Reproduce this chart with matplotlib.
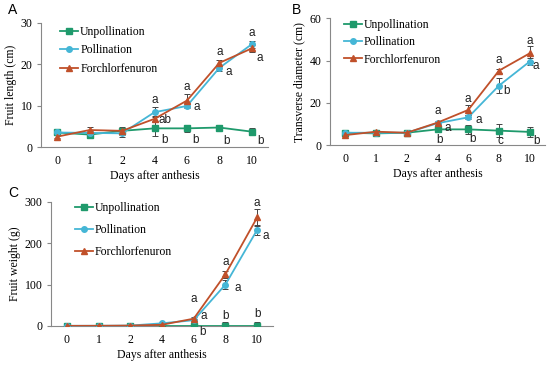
import matplotlib
matplotlib.use("Agg")
import matplotlib.pyplot as plt
import numpy as np

plt.rcParams['font.family'] = ['Liberation Serif', 'DejaVu Serif']

days = ["0", "1", "2", "4", "6", "8", "10"]
series_names = ["Unpollination", "Pollination", "Forchlorfenuron"]
colors = ["#1f9a6c", "#45b6d6", "#c0502a"]
markers = ["s", "o", "^"]

# Panel A: fruit length (cm)
A_unpoll = [3.5, 3.0, 3.9, 4.5, 4.5, 4.7, 3.7]
A_poll = [3.5, 3.4, 3.3, 8.4, 9.9, 19.1, 24.8]
A_forch = [2.5, 4.1, 3.9, 6.8, 11.2, 20.3, 23.8]
A_unpoll_err = [0.5, 0.8, 1.0, 1.8, 0.9, 0.5, 0.8]
A_poll_err = [0.4, 0.8, 0.8, 1.2, 0.6, 0.8, 0.8]
A_forch_err = [0.4, 0.8, 0.8, 0.8, 1.5, 0.8, 0.8]

# Panel B: transverse diameter (cm)
B_unpoll = [5.8, 5.5, 5.8, 7.4, 7.4, 6.8, 6.2]
B_poll = [5.8, 5.8, 5.8, 10.3, 13.1, 28.1, 39.5]
B_forch = [4.7, 6.3, 5.8, 10.6, 16.6, 35.2, 43.4]
B_unpoll_err = [0.5, 0.5, 0.5, 0.8, 2.0, 3.0, 2.5]
B_poll_err = [0.5, 0.5, 0.5, 0.8, 1.0, 3.5, 1.5]
B_forch_err = [0.5, 0.5, 0.5, 0.8, 2.5, 1.0, 3.5]

# Panel C: fruit weight (g)
C_unpoll = [0.5, 0.5, 0.5, 0.5, 0.5, 0.5, 0.5]
C_poll = [0.5, 0.5, 1.0, 6.5, 14, 100, 232]
C_forch = [0.3, 0.5, 1.0, 3.0, 17.7, 125, 262]
C_unpoll_err = [0.5, 0.5, 0.5, 0.5, 1.0, 8, 8]
C_poll_err = [0.5, 0.5, 0.5, 1.0, 2.0, 10, 12]
C_forch_err = [0.5, 0.5, 0.5, 1.0, 5.0, 8, 20]

# Significance letters: (category index, x offset, y, text)
A_letters = [(3, 0.0, 11.3, "a"), (3, 0.32, 6.5, "ab"), (3, 0.3, 1.7, "b"),
             (4, 0.0, 14.4, "a"), (4, 0.3, 9.6, "a"), (4, 0.25, 1.7, "b"),
             (5, 0.0, 23.0, "a"), (5, 0.3, 18.2, "a"), (5, 0.22, 1.5, "b"),
             (6, 0.0, 27.4, "a"), (6, 0.24, 21.6, "a"), (6, 0.26, 1.5, "b")]
B_letters = [(3, 0.0, 16.1, "a"), (3, 0.34, 8.2, "a"), (3, 0.05, 2.4, "b"),
             (4, 0.0, 21.8, "a"), (4, 0.33, 11.8, "a"), (4, 0.15, 2.7, "b"),
             (5, 0.0, 40.3, "a"), (5, 0.26, 25.7, "b"), (5, 0.06, 2.0, "c"),
             (6, 0.0, 49.4, "a"), (6, 0.21, 37.4, "a"), (6, 0.21, 2.0, "b")]
C_letters = [(4, 0.0, 65, "a"), (4, 0.31, 24, "a"), (4, 0.27, -15, "b"),
             (5, 0.0, 154, "a"), (5, 0.39, 92, "a"), (5, 0.0, 25, "b"),
             (6, 0.0, 298, "a"), (6, 0.28, 217, "a"), (6, 0.0, 28, "b")]

fig = plt.figure(figsize=(5.5, 3.66), dpi=100)
W, H = 550.0, 366.0

def make_ax(left, right, top, bottom):
    return fig.add_axes([left / W, 1 - bottom / H, (right - left) / W, (bottom - top) / H])

def draw(ax, vals, errs, ylim, yticks, ylabel, letters, leg_anchor, labelspacing):
    x = np.arange(len(days))
    for v, e, c, m, n in zip(vals, errs, colors, markers, series_names):
        ax.errorbar(x, v, yerr=e, fmt="none", ecolor="#444444", elinewidth=0.7,
                    capsize=2, capthick=0.7, zorder=2)
        ax.plot(x, v, color=c, marker=m, markersize=4, lw=1.3, label=n, zorder=3)
    ax.set_xlim(-0.5, 6.5)
    ax.set_ylim(*ylim)
    ax.set_yticks(yticks)
    ax.set_xticks(x)
    ax.set_xticklabels(days)
    for s in ["top", "right"]:
        ax.spines[s].set_visible(False)
    for s in ["left", "bottom"]:
        ax.spines[s].set_color("#888888")
        ax.spines[s].set_linewidth(0.8)
    ax.spines["bottom"].set_zorder(0)
    ax.tick_params(axis="x", length=0, labelsize=8.5, pad=6)
    ax.tick_params(axis="y", length=3, color="#888888", labelsize=8.5, pad=3)
    ax.set_xlabel("Days after anthesis", fontsize=8.5, labelpad=2)
    ax.set_ylabel(ylabel, fontsize=8.5, labelpad=3)
    for (i, dx, yy, t) in letters:
        ax.text(i + dx, yy, t, ha="center", va="center", fontsize=8.5,
                family=["Liberation Sans", "DejaVu Sans"], color="#222222")
    ax.legend(loc="upper left", bbox_to_anchor=leg_anchor, frameon=False,
              fontsize=8.5, handlelength=1.5, handletextpad=0.2,
              labelspacing=labelspacing, borderpad=0, borderaxespad=0)

axA = make_ax(41, 268, 22.7, 147)
draw(axA, [A_unpoll, A_poll, A_forch], [A_unpoll_err, A_poll_err, A_forch_err],
     (0, 30), [0, 10, 20, 30], "Fruit length (cm)", A_letters, (0.084, 0.975), 0.55)

axB = make_ax(330, 545, 18.3, 145)
draw(axB, [B_unpoll, B_poll, B_forch], [B_unpoll_err, B_poll_err, B_forch_err],
     (0, 60), [0, 20, 40, 60], "Transverse diameter (cm)", B_letters, (0.065, 0.995), 0.45)

axC = make_ax(51, 273, 201.7, 326)
draw(axC, [C_unpoll, C_poll, C_forch], [C_unpoll_err, C_poll_err, C_forch_err],
     (0, 300), [0, 100, 200, 300], "Fruit weight (g)", C_letters, (0.108, 0.998), 0.85)

for lab, px, py in [("A", 8, 10), ("B", 292, 10), ("C", 8, 193)]:
    fig.text(px / W, 1 - py / H, lab, fontsize=10,
             family=["Liberation Sans", "DejaVu Sans"], ha="left", va="center")

fig.savefig("out.png", dpi=100)
